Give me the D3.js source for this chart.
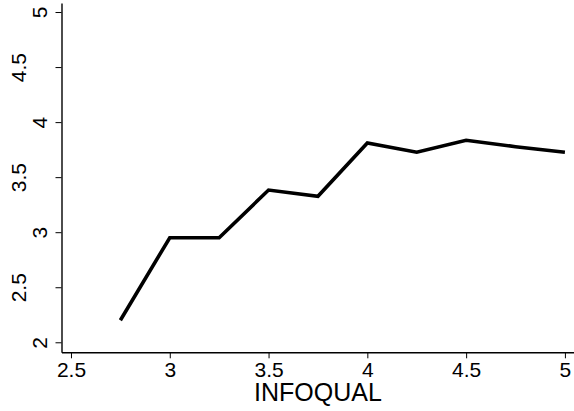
<!DOCTYPE html>
<html>
<head>
<meta charset="utf-8">
<script src="https://cdn.jsdelivr.net/npm/d3@7"></script>
<style>
  body { margin: 0; background: #fff; }
  text { font-family: "Liberation Sans", Arial, Helvetica, sans-serif; fill: #000; }
</style>
</head>
<body>
<div id="chart"></div>
<script>
// 資料
const infoqual = [2.75, 3, 3.25, 3.5, 3.75, 4, 4.25, 4.5, 4.75, 5];
const values = [2.20, 2.95, 2.95, 3.383, 3.326, 3.81, 3.726, 3.835, 3.777, 3.726];
const xTicks = [2.5, 3, 3.5, 4, 4.5, 5];
const yTicks = [2, 2.5, 3, 3.5, 4, 4.5, 5];
const xTitle = "INFOQUAL";

const width = 574, height = 411;

const x = d3.scaleLinear()
  .domain([2.452, 5.046])
  .range([61.5, 574]);

const y = d3.scaleLinear()
  .domain([1.909, 5.082])
  .range([352.3, 3]);

const svg = d3.select("#chart").append("svg")
  .attr("width", width)
  .attr("height", height);

// x 軸
svg.append("g")
  .attr("transform", `translate(0,${y(1.909)})`)
  .call(d3.axisBottom(x).tickValues(xTicks).tickFormat(d3.format("")).tickSize(6).tickSizeOuter(0))
  .call(g => g.select(".domain").attr("stroke-width", 1.4))
  .call(g => g.selectAll(".tick line").attr("stroke-width", 1))
  .call(g => g.selectAll(".tick text")
    .attr("font-family", null)
    .attr("font-size", 21)
    .attr("dy", null)
    .attr("y", 25));

// y 軸（文字旋轉，整數與半數交錯）
svg.append("g")
  .attr("transform", `translate(${x(2.452)},0)`)
  .call(d3.axisLeft(y).tickValues(yTicks).tickFormat(d3.format("")).tickSize(6).tickSizeOuter(0))
  .call(g => g.select(".domain").attr("stroke-width", 1.4))
  .call(g => g.selectAll(".tick line").attr("stroke-width", 1))
  .call(g => g.selectAll(".tick text")
    .attr("font-family", null)
    .attr("font-size", 21)
    .attr("x", null).attr("dy", null)
    .attr("text-anchor", "middle")
    .attr("transform", d => `translate(${Number.isInteger(d) ? -14.5 : -35.5},0) rotate(-90)`));

// 線
const line = d3.line()
  .x((d, i) => x(infoqual[i]))
  .y(d => y(d));

svg.append("path")
  .datum(values)
  .attr("fill", "none")
  .attr("stroke", "#000")
  .attr("stroke-width", 3.6)
  .attr("stroke-linejoin", "miter")
  .attr("d", line);

// x 軸標題
svg.append("text")
  .attr("x", (x(2.5) + x(5)) / 2)
  .attr("y", 401)
  .attr("text-anchor", "middle")
  .attr("font-size", 25)
  .text(xTitle);
</script>
</body>
</html>
